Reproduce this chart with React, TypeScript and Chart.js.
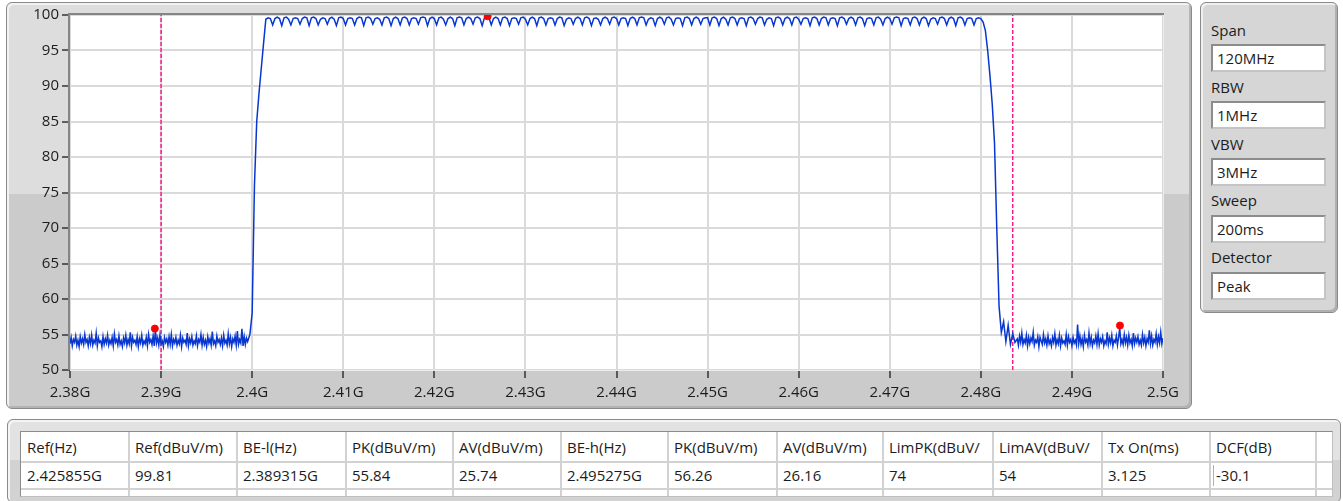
import React, { useEffect, useRef } from 'react';
import { Chart, registerables } from 'chart.js';

Chart.register(...registerables);

// ---------------- data ----------------
const X_MIN = 2.38;
const X_MAX = 2.5;
const X_STEP = 0.01;
const Y_MIN = 50;
const Y_MAX = 100;
const Y_STEP = 5;

// noise floor below the band: 2.380000 .. 2.399375 GHz, 0.125 MHz apart
const NOISE_LOW_START_GHZ = 2.38;
const NOISE_STEP_GHZ = 0.000125;
const NOISE_LOW = [
  53.7, 54.6, 53.4, 54.3, 53.9, 54.8, 53.5, 54.2, 53.3, 54.7, 53.8, 54.4,
  53.6, 55.0, 53.9, 54.3, 53.4, 54.6, 53.7, 54.9, 53.5, 54.2, 53.8, 55.2,
  53.4, 54.5, 53.9, 54.1, 53.3, 54.7, 53.6, 54.4, 53.8, 54.9, 53.5, 54.2,
  53.7, 54.6, 53.4, 55.1, 53.9, 54.3, 53.5, 54.8, 53.6, 54.1, 53.3, 54.5,
  53.8, 54.9, 53.5, 54.3, 53.7, 55.3, 53.4, 54.6, 53.9, 54.2, 53.6, 54.7,
  53.3, 54.4, 53.8, 54.9, 53.5, 54.1, 53.7, 54.6, 53.4, 55.0, 53.9, 54.3,
  53.6, 54.8, 53.4, 55.7, 53.8, 54.5, 53.5, 54.9, 53.7, 54.1, 53.3, 54.6,
  53.9, 54.4, 53.5, 54.7, 53.6, 55.0, 53.4, 54.3, 53.8, 54.6, 53.5, 54.2,
  53.7, 54.9, 53.3, 54.5, 53.9, 54.2, 53.6, 55.2, 53.4, 54.4, 53.8, 54.7,
  53.5, 54.1, 53.7, 54.8, 53.4, 54.3, 53.9, 55.0, 53.5, 54.6, 53.6, 54.2,
  53.3, 54.7, 53.8, 54.4, 53.5, 55.4, 53.7, 54.1, 53.4, 54.8, 53.9, 54.3,
  53.6, 54.5, 53.4, 54.9, 53.8, 54.2, 53.5, 55.1, 53.7, 54.6, 53.3, 54.4,
  53.9, 54.8, 53.5, 55.5, 53.6, 54.3, 53.8, 55.8, 53.4, 54.7, 53.6, 54.5,
];

// band: 2.39950 .. 2.48375 GHz, 0.25 MHz apart
const BAND_START_GHZ = 2.3995;
const BAND_STEP_GHZ = 0.00025;
const RISE = [54.0, 55.0, 58.0, 76.0, 85.0, 89.0, 92.5, 96.0];
const PASSBAND = [
  99.4, 99.6, 99.5, 98.6, 99.5, 99.7, 99.5, 98.5, 99.6, 99.7, 99.4, 98.6, 99.5, 99.6, 99.5, 98.7, 99.5, 99.7, 99.6, 98.5,
  99.6, 99.7, 99.5, 98.6, 99.4, 99.6, 99.5, 98.7, 99.5, 99.7, 99.4, 98.5, 99.6, 99.7, 99.5, 98.6, 99.5, 99.6, 99.5, 98.6,
  99.5, 99.7, 99.6, 98.5, 99.6, 99.7, 99.5, 98.7, 99.5, 99.6, 99.4, 98.6, 99.6, 99.7, 99.5, 98.5, 99.5, 99.7, 99.5, 98.6,
  99.6, 99.7, 99.5, 98.6, 99.5, 99.6, 99.5, 98.7, 99.6, 99.7, 99.6, 98.5, 99.5, 99.7, 99.5, 98.6, 99.6, 99.7, 99.4, 98.6,
  99.5, 99.7, 99.5, 98.5, 99.6, 99.7, 99.6, 98.6, 99.5, 99.7, 99.5, 98.7, 99.6, 99.7, 99.5, 98.5, 99.6, 99.8, 99.6, 98.6,
  99.5, 99.7, 99.5, 98.6, 99.6, 99.7, 99.5, 98.5, 99.5, 99.6, 99.5, 98.7, 99.6, 99.7, 99.4, 98.6, 99.5, 99.7, 99.5, 98.5,
  99.6, 99.7, 99.5, 98.6, 99.5, 99.6, 99.5, 98.6, 99.5, 99.7, 99.6, 98.5, 99.4, 99.6, 99.5, 98.7, 99.5, 99.7, 99.5, 98.6,
  99.6, 99.7, 99.5, 98.5, 99.5, 99.6, 99.4, 98.6, 99.5, 99.7, 99.5, 98.7, 99.6, 99.7, 99.5, 98.6, 99.5, 99.6, 99.5, 98.5,
  99.5, 99.7, 99.5, 98.6, 99.6, 99.7, 99.6, 98.6, 99.4, 99.6, 99.5, 98.5, 99.5, 99.7, 99.5, 98.7, 99.6, 99.7, 99.4, 98.6,
  99.5, 99.6, 99.5, 98.5, 99.6, 99.7, 99.5, 98.6, 99.5, 99.7, 99.5, 98.7, 99.5, 99.6, 99.6, 98.6, 99.6, 99.7, 99.5, 98.5,
  99.5, 99.7, 99.4, 98.6, 99.6, 99.7, 99.5, 98.6, 99.5, 99.6, 99.5, 98.5, 99.6, 99.7, 99.5, 98.7, 99.5, 99.7, 99.6, 98.6,
  99.4, 99.6, 99.5, 98.5, 99.6, 99.7, 99.5, 98.6, 99.5, 99.7, 99.5, 98.6, 99.6, 99.7, 99.4, 98.7, 99.5, 99.6, 99.5, 98.5,
  99.6, 99.7, 99.5, 98.6, 99.5, 99.7, 99.6, 98.6, 99.5, 99.6, 99.5, 98.5, 99.6, 99.7, 99.5, 98.7, 99.5, 99.7, 99.5, 98.6,
  99.6, 99.7, 99.5, 98.5, 99.5, 99.6, 99.5, 98.6, 99.6, 99.7, 99.4, 98.6, 99.5, 99.7, 99.5, 98.7, 99.6, 99.7, 99.6, 98.5,
  99.5, 99.6, 99.5, 98.6, 99.6, 99.7, 99.5, 98.6, 99.5, 99.7, 99.5, 98.5, 99.4, 99.6, 99.5, 98.7, 99.6, 99.7, 99.5, 98.6,
  99.5, 99.7, 99.5, 98.5, 99.6, 99.7, 99.5, 98.6, 99.5, 99.6, 99.5, 98.6, 99.5, 99.6,
];
const FALL = [99.5, 99.0, 97.8, 95.0, 91.5, 87.5, 82.0, 70.0, 59.0, 55.3, 56.8, 54.0, 56.3, 53.6, 55.1, 53.9];

// noise floor above the band: 2.484000 .. 2.500000 GHz, 0.125 MHz apart
const NOISE_HIGH_START_GHZ = 2.484;
const NOISE_HIGH = [
  54.4, 53.5, 54.8, 53.9, 55.2, 53.6, 54.3, 53.8, 54.9, 53.4, 54.6, 53.7,
  54.5, 54.0, 55.3, 53.5, 54.2, 53.9, 54.7, 53.3, 54.6, 54.1, 53.6, 55.0,
  53.8, 54.4, 53.5, 54.8, 53.7, 54.2, 53.4, 54.6, 53.9, 55.1, 53.5, 54.3,
  53.7, 54.9, 53.4, 54.5, 53.8, 54.1, 53.6, 55.0, 53.5, 54.7, 53.9, 54.3,
  53.4, 54.6, 53.8, 54.2, 53.5, 56.4, 53.7, 54.8, 53.6, 54.4, 53.3, 54.9,
  53.9, 54.3, 53.5, 55.2, 53.7, 54.6, 53.4, 54.2, 53.8, 54.8, 53.6, 55.1,
  53.5, 54.4, 53.9, 54.7, 53.4, 54.1, 53.7, 55.3, 53.6, 54.5, 53.8, 54.9,
  53.4, 54.2, 53.9, 54.8, 53.5, 54.6, 55.9, 53.7, 54.3, 53.6, 55.0, 53.8,
  54.6, 53.5, 54.9, 53.8, 54.3, 53.4, 55.2, 53.7, 54.5, 53.9, 54.7, 53.6,
  54.2, 53.5, 55.0, 53.8, 54.6, 53.4, 54.4, 53.9, 55.6, 53.7, 54.8, 53.5,
  54.3, 53.9, 55.1, 53.6, 54.7, 53.8, 55.3, 53.7, 54.5,
];

const BAND_EDGES_GHZ = [2.39, 2.4835];

const MARKER_FREQS_GHZ = [2.425855, 2.389315, 2.495275];
const MARKER_LEVELS = [99.81, 55.84, 56.26];

const SETTING_LABELS = ['Span', 'RBW', 'VBW', 'Sweep', 'Detector'];
const SETTING_VALUES = ['120MHz', '1MHz', '3MHz', '200ms', 'Peak'];

const TABLE_HEADERS = [
  'Ref(Hz)', 'Ref(dBuV/m)', 'BE-l(Hz)', 'PK(dBuV/m)', 'AV(dBuV/m)', 'BE-h(Hz)',
  'PK(dBuV/m)', 'AV(dBuV/m)', 'LimPK(dBuV/', 'LimAV(dBuV/', 'Tx On(ms)', 'DCF(dB)',
];
const TABLE_VALUES = [
  '2.425855G', '99.81', '2.389315G', '55.84', '25.74', '2.495275G',
  '56.26', '26.16', '74', '54', '3.125', '-30.1',
];

// ---------------- styles ----------------
const FONT = '"Segoe UI", "Open Sans", "Noto Sans", sans-serif';
const TEXT = '#1c1c1c';
const COL_EDGES = [20, 128, 236, 345, 452, 560, 667, 776, 882, 992, 1101, 1209, 1315];

const plotFrame = {
  id: 'plotFrame',
  beforeDraw(chart: any) {
    const { ctx, chartArea: a } = chart;
    ctx.save();
    ctx.fillStyle = '#ffffff';
    ctx.fillRect(a.left, a.top, a.right - a.left, a.bottom - a.top);
    ctx.restore();
  },
  afterDraw(chart: any) {
    const { ctx, chartArea: a } = chart;
    ctx.save();
    ctx.lineWidth = 2;
    ctx.strokeStyle = '#858585';
    ctx.beginPath();
    ctx.moveTo(a.left - 1, a.bottom);
    ctx.lineTo(a.left - 1, a.top - 1);
    ctx.lineTo(a.right + 1, a.top - 1);
    ctx.stroke();
    ctx.strokeStyle = '#ececec';
    ctx.lineWidth = 1;
    ctx.beginPath();
    ctx.moveTo(a.right + 0.5, a.top);
    ctx.lineTo(a.right + 0.5, a.bottom + 0.5);
    ctx.lineTo(a.left, a.bottom + 0.5);
    ctx.stroke();
    ctx.restore();
  },
};

function SpectrumChart() {
  const ref = useRef<HTMLCanvasElement | null>(null);

  useEffect(() => {
    if (!ref.current) return;
    const bandLevels = [...RISE, ...PASSBAND, ...FALL];
    const tracePts = [
      ...NOISE_LOW.map((v, i) => ({ x: NOISE_LOW_START_GHZ + i * NOISE_STEP_GHZ, y: v })),
      ...bandLevels.map((v, i) => ({ x: BAND_START_GHZ + i * BAND_STEP_GHZ, y: v })),
      ...NOISE_HIGH.map((v, i) => ({ x: NOISE_HIGH_START_GHZ + i * NOISE_STEP_GHZ, y: v })),
    ];
    const edgeSets = BAND_EDGES_GHZ.map((f) => ({
      type: 'line' as const,
      data: [
        { x: f, y: Y_MIN },
        { x: f, y: Y_MAX },
      ],
      borderColor: '#ff1a8c',
      borderWidth: 1.5,
      borderDash: [4, 2],
      pointRadius: 0,
      order: 3,
    }));
    const chart = new Chart(ref.current, {
      type: 'line',
      data: {
        datasets: [
          {
            type: 'line',
            data: tracePts,
            borderColor: '#0836d0',
            borderWidth: 1.5,
            pointRadius: 0,
            tension: 0,
            order: 2,
          },
          ...edgeSets,
          {
            type: 'scatter',
            data: MARKER_FREQS_GHZ.map((f, i) => ({ x: f, y: MARKER_LEVELS[i] })),
            backgroundColor: '#ff0000',
            borderColor: '#ff0000',
            pointRadius: 3.5,
            order: 0,
          },
        ] as any,
      },
      options: {
        responsive: false,
        animation: false,
        parsing: false as any,
        normalized: true,
        layout: { padding: { left: 12, top: 12, right: 29, bottom: 7 } },
        plugins: { legend: { display: false }, tooltip: { enabled: false } },
        scales: {
          x: {
            type: 'linear',
            min: X_MIN,
            max: X_MAX,
            border: { display: false },
            grid: { color: '#dadada', lineWidth: 2, tickLength: 8, tickColor: '#333333', tickWidth: 1.5 },
            ticks: {
              stepSize: X_STEP,
              autoSkip: false,
              maxRotation: 0,
              padding: 6,
              color: TEXT,
              font: { family: FONT, size: 15 },
              callback: (v: any) => `${+Number(v).toFixed(2)}G`,
            },
            afterFit: (s: any) => {
              s.height = 30;
              s.paddingLeft = 0;
              s.paddingRight = 0;
            },
          },
          y: {
            type: 'linear',
            min: Y_MIN,
            max: Y_MAX,
            border: { display: false },
            grid: { color: '#dadada', lineWidth: 2, tickLength: 8, tickColor: '#333333', tickWidth: 1.5 },
            ticks: {
              stepSize: Y_STEP,
              padding: 3,
              color: TEXT,
              font: { family: FONT, size: 15 },
            },
            afterFit: (s: any) => {
              s.width = 50;
              s.paddingTop = 0;
              s.paddingBottom = 0;
            },
          },
        },
      },
      plugins: [plotFrame],
    });
    return () => chart.destroy();
  }, []);

  return (
    <canvas
      ref={ref}
      width={1184}
      height={404}
      style={{ position: 'absolute', left: 8, top: 3, width: 1184, height: 404 }}
    />
  );
}

const abs = (o: React.CSSProperties): React.CSSProperties => ({ position: 'absolute', boxSizing: 'border-box', ...o });

export default function App() {
  return (
    <div style={abs({ left: 0, top: 0, width: 1343, height: 501, background: '#ffffff', fontFamily: FONT, color: TEXT, overflow: 'hidden' })}>
      {/* chart panel */}
      <div
        style={abs({
          left: 6,
          top: 2,
          width: 1186,
          height: 407,
          border: '1px solid #8a8a8a',
          borderRadius: 6,
          background: 'linear-gradient(#dddddd 0px, #dddddd 191px, #cbcbcb 191px, #cbcbcb 100%)',
          boxShadow: 'inset 2px 2px 0 #f2f2f2, inset -2px -2px 0 #b4b4b4',
        })}
      />
      <SpectrumChart />

      {/* settings panel */}
      <div
        style={abs({
          left: 1200,
          top: 2,
          width: 138,
          height: 311,
          border: '1px solid #8a8a8a',
          borderRadius: 6,
          background: '#d6d6d6',
          boxShadow: 'inset 2px 2px 0 #f0f0f0, inset -2px -2px 0 #b0b0b0',
        })}
      />
      {SETTING_LABELS.map((lab, i) => (
        <React.Fragment key={lab}>
          <div style={abs({ left: 1211, top: 20 + i * 56.8, height: 20, lineHeight: '20px', fontSize: 15, whiteSpace: 'nowrap' })}>{lab}</div>
          <div
            style={abs({
              left: 1211,
              top: 44 + i * 57,
              width: 115,
              height: 28,
              background: '#ffffff',
              borderTop: '2px solid #8c8c8c',
              borderLeft: '2px solid #8c8c8c',
              borderRight: '2px solid #c4c4c4',
              borderBottom: '2px solid #c4c4c4',
              paddingLeft: 4,
              fontSize: 15,
              lineHeight: '24px',
              whiteSpace: 'nowrap',
            })}
          >
            {SETTING_VALUES[i]}
          </div>
        </React.Fragment>
      ))}

      {/* table panel */}
      <div
        style={abs({
          left: 7,
          top: 419,
          width: 1334,
          height: 84,
          border: '1px solid #8a8a8a',
          borderRadius: 6,
          background: 'linear-gradient(#e2e2e2 0px, #e2e2e2 40px, #d2d2d2 40px, #d2d2d2 100%)',
          boxShadow: 'inset 2px 2px 0 #f4f4f4',
        })}
      />
      <div
        style={abs({
          left: 20,
          top: 431,
          width: 1313,
          height: 66,
          background: '#ffffff',
          borderTop: '1px solid #8c8c8c',
          borderLeft: '1px solid #8c8c8c',
          borderRight: '1px solid #c0c0c0',
          borderBottom: '1px solid #c0c0c0',
          overflow: 'hidden',
        })}
      >
        <div style={abs({ left: 0, top: 29, width: 1313, height: 2, background: '#d2d2d2' })} />
        <div style={abs({ left: 0, top: 56, width: 1313, height: 2, background: '#d2d2d2' })} />
        {COL_EDGES.slice(1).map((x) => (
          <div key={x} style={abs({ left: x - 21, top: 0, width: 2, height: 66, background: '#d2d2d2' })} />
        ))}
        {TABLE_HEADERS.map((h, i) => (
          <div
            key={'h' + i}
            style={abs({ left: COL_EDGES[i] - 20 + 6, top: 2, width: COL_EDGES[i + 1] - COL_EDGES[i] - 8, height: 26, lineHeight: '26px', fontSize: 15, whiteSpace: 'nowrap', overflow: 'hidden' })}
          >
            {h}
          </div>
        ))}
        {TABLE_VALUES.map((v, i) => (
          <div
            key={'v' + i}
            style={abs({ left: COL_EDGES[i] - 20 + 6, top: 31, width: COL_EDGES[i + 1] - COL_EDGES[i] - 8, height: 25, lineHeight: '25px', fontSize: 15, whiteSpace: 'nowrap', overflow: 'hidden' })}
          >
            {v}
          </div>
        ))}
        <div style={abs({ left: COL_EDGES[11] - 20 + 3, top: 33, width: 1, height: 21, background: '#f0b400' })} />
      </div>
    </div>
  );
}
